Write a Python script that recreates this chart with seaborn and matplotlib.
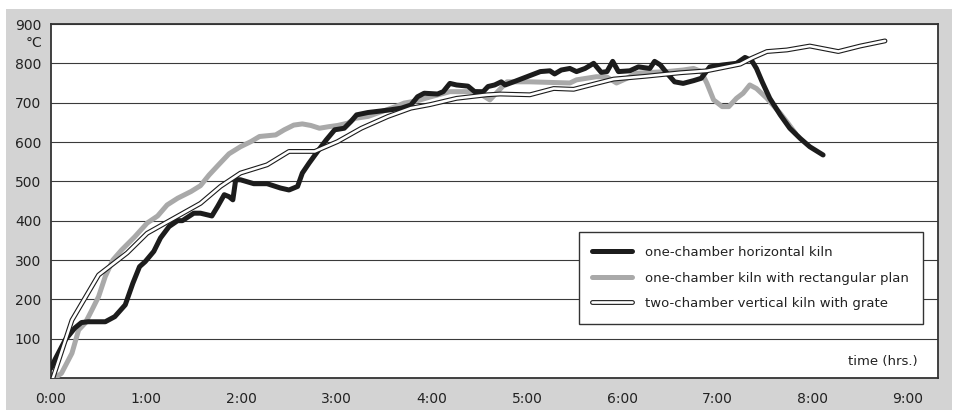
import matplotlib
matplotlib.use('Agg')
import matplotlib.pyplot as plt
import matplotlib.patheffects as pe
from matplotlib.patches import Rectangle
import seaborn as sns

# kiln firing curves, time in hours, temperature in °C
horiz_t = [0.00, 0.04, 0.15, 0.25, 0.32, 0.39, 0.57, 0.67, 0.78, 0.86, 0.93, 0.99,
           1.08, 1.15, 1.24, 1.33, 1.38, 1.50, 1.57, 1.69, 1.75, 1.82, 1.87, 1.91,
           1.94, 1.99, 2.13, 2.27, 2.41, 2.50, 2.59, 2.64, 2.71, 2.80, 2.89, 2.98,
           3.08, 3.15, 3.21, 3.33, 3.47, 3.57, 3.68, 3.78, 3.85, 3.92, 4.06, 4.12,
           4.19, 4.26, 4.38, 4.45, 4.54, 4.59, 4.66, 4.73, 4.77, 4.86, 5.00, 5.14,
           5.24, 5.29, 5.36, 5.45, 5.52, 5.61, 5.70, 5.78, 5.84, 5.90, 5.96, 6.08,
           6.17, 6.29, 6.34, 6.40, 6.47, 6.55, 6.64, 6.75, 6.83, 6.92, 7.06, 7.20,
           7.29, 7.36, 7.41, 7.47, 7.55, 7.66, 7.76, 7.87, 7.97, 8.11]
horiz_temp = [25, 46, 97, 127, 141, 143, 143, 156, 186, 241, 283, 296,
              322, 356, 385, 400, 400, 419, 419, 412, 436, 466, 461, 453,
              504, 504, 494, 494, 483, 478, 487, 521, 546, 576, 605, 631,
              635, 652, 669, 675, 679, 682, 686, 694, 715, 724, 722, 728,
              749, 745, 742, 728, 728, 741, 745, 753, 745, 753, 766, 779,
              781, 773, 783, 787, 779, 787, 800, 777, 779, 805, 779, 781,
              791, 787, 805, 796, 775, 753, 749, 756, 762, 791, 796, 800,
              815, 807, 787, 753, 711, 669, 635, 609, 588, 567]

rect_t = [0.04, 0.11, 0.22, 0.29, 0.36, 0.43, 0.50, 0.57, 0.65, 0.74, 0.88, 1.01,
          1.12, 1.22, 1.33, 1.47, 1.57, 1.66, 1.76, 1.87, 1.99, 2.10, 2.19, 2.36,
          2.45, 2.55, 2.64, 2.73, 2.82, 2.92, 3.01, 3.12, 3.19, 3.33, 3.47, 3.62,
          3.71, 3.85, 3.99, 4.19, 4.47, 4.61, 4.79, 5.03, 5.45, 5.52, 5.73, 5.84,
          5.94, 6.05, 6.15, 6.47, 6.64, 6.75, 6.83, 6.89, 6.96, 7.05, 7.12, 7.20,
          7.27, 7.34, 7.41, 7.52, 7.66, 7.74, 7.82]
rect_temp = [0, 12, 63, 122, 140, 173, 207, 258, 300, 325, 359, 394,
             412, 440, 457, 474, 489, 516, 542, 570, 588, 601, 614, 618,
             631, 643, 646, 642, 635, 639, 642, 648, 660, 665, 677, 690,
             699, 705, 715, 728, 728, 707, 753, 753, 750, 758, 766, 765,
             750, 762, 775, 779, 783, 787, 779, 749, 707, 690, 690, 711,
             724, 745, 736, 711, 673, 648, 622]

vert_t = [0.02, 0.22, 0.50, 0.80, 1.01, 1.29, 1.57, 1.78, 1.99, 2.27, 2.50, 2.77,
          3.01, 3.26, 3.54, 3.78, 3.98, 4.26, 4.58, 4.72, 5.03, 5.28, 5.49, 5.73,
          5.91, 6.24, 6.61, 6.89, 7.24, 7.36, 7.52, 7.73, 7.97, 8.27, 8.50, 8.76]
vert_temp = [0, 147, 262, 318, 368, 406, 444, 487, 521, 542, 576, 576,
             601, 635, 665, 686, 695, 711, 720, 722, 720, 736, 734, 749,
             760, 767, 776, 781, 798, 813, 830, 834, 844, 830, 844, 857]

labels = ['one-chamber horizontal kiln',
          'one-chamber kiln with rectangular plan',
          'two-chamber vertical kiln with grate']
hour_ticks = list(range(10))
hour_labels = ['%d:00' % h for h in hour_ticks]
temp_ticks = [100, 200, 300, 400, 500, 600, 700, 800, 900]

sns.set_style('white')
plt.rcParams['font.family'] = ['DejaVu Sans']
plt.rcParams['text.color'] = '#222222'

fig = plt.figure(figsize=(9.62, 4.12), dpi=100)
fig.patches.append(Rectangle((6 / 962, 2 / 412), 946 / 962, 401 / 412,
                             transform=fig.transFigure, facecolor='#d3d3d3',
                             edgecolor='none', zorder=-10))
ax = fig.add_axes([51 / 962, 34 / 412, 887 / 962, 354 / 412])
ax.set_zorder(1)
ax.set_facecolor('white')

sns.lineplot(x=rect_t, y=rect_temp, ax=ax, sort=False, estimator=None,
             color='#a9a9a9', lw=3.6, label=labels[1], zorder=3,
             solid_joinstyle='round', solid_capstyle='round')
sns.lineplot(x=horiz_t, y=horiz_temp, ax=ax, sort=False, estimator=None,
             color='#1c1c1c', lw=3.6, label=labels[0], zorder=4,
             solid_joinstyle='round', solid_capstyle='round')
sns.lineplot(x=vert_t, y=vert_temp, ax=ax, sort=False, estimator=None,
             color='white', lw=1.9, label=labels[2], zorder=5,
             solid_joinstyle='round',
             path_effects=[pe.Stroke(linewidth=3.5, foreground='#1c1c1c',
                                     joinstyle='round'), pe.Normal()])

ax.set_xlim(0, 9.317)
ax.set_ylim(0, 900)
ax.set_xticks(hour_ticks)
ax.set_xticklabels(hour_labels)
ax.set_yticks(temp_ticks)
ax.set_yticklabels([str(v) for v in temp_ticks])
ax.tick_params(axis='x', direction='out', length=6, width=1, color='#333333',
               labelsize=10, labelcolor='#222222', pad=4)
ax.tick_params(axis='y', length=0, labelsize=10, labelcolor='#222222', pad=7)
ax.yaxis.grid(True, color='#3a3a3a', lw=0.8)
ax.set_axisbelow(True)
for s in ax.spines.values():
    s.set_color('#333333')
    s.set_linewidth(1.3)
ax.set_xlabel('')
ax.set_ylabel('')

ax.text(-0.0101, 852, '°C', transform=ax.get_yaxis_transform(), ha='right',
        va='center', fontsize=10)
ax.text(9.10, 41, 'time (hrs.)', ha='right', va='center', fontsize=9.5)

handles, labs = ax.get_legend_handles_labels()
order = [labs.index(l) for l in labels]
leg = ax.legend([handles[i] for i in order], [labs[i] for i in order],
                loc='upper right', bbox_to_anchor=(0.983, 0.412), borderaxespad=0,
                fancybox=False, framealpha=1, edgecolor='#333333', fontsize=9.5,
                handlelength=3, handletextpad=1.0, labelspacing=0.95, borderpad=1.05)
leg.get_frame().set_linewidth(1.0)
for h in leg.get_lines():
    h.set_solid_capstyle('round')

fig.savefig('out.png', dpi=100, facecolor='white')
